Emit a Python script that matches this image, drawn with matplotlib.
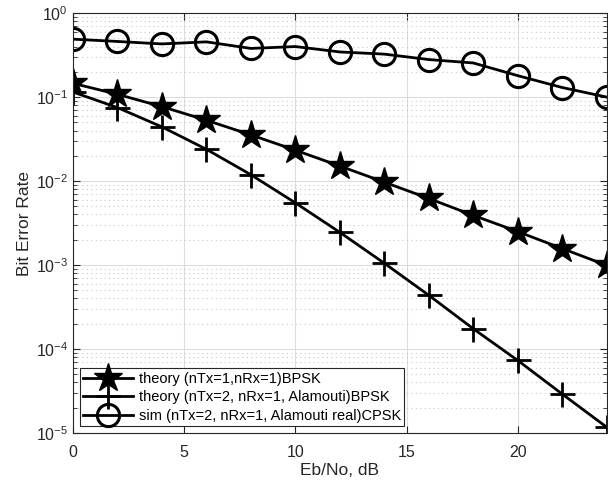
import numpy as np
import matplotlib
matplotlib.use("Agg")
import matplotlib.pyplot as plt
from matplotlib.ticker import LogLocator, NullFormatter

plt.rcParams['font.family'] = ['Liberation Sans', 'DejaVu Sans']
plt.rcParams['mathtext.fontset'] = 'custom'
plt.rcParams['mathtext.rm'] = 'Liberation Sans'
plt.rcParams['mathtext.it'] = 'Liberation Sans'

# Eb/No (dB)
ebno = [0, 2, 4, 6, 8, 10, 12, 14, 16, 18, 20, 22, 24]

# theory (nTx=1, nRx=1) BPSK
ber_1x1 = [0.146, 0.108, 0.077, 0.053, 0.0355, 0.0233, 0.0151, 0.0097,
           0.0062, 0.0039, 0.0025, 0.00157, 0.00099]
# theory (nTx=2, nRx=1, Alamouti) BPSK
ber_alam = [0.115, 0.075, 0.0442, 0.0239, 0.0119, 0.0055, 0.00245, 0.00105,
            0.000436, 0.000174, 7.3e-5, 2.9e-5, 1.17e-5]
# sim (nTx=2, nRx=1, Alamouti real) CPSK
ber_sim = [0.49, 0.46, 0.43, 0.455, 0.38, 0.40, 0.345, 0.325,
           0.28, 0.255, 0.18, 0.13, 0.10]

labels = ['theory (nTx=1,nRx=1)BPSK',
          'theory (nTx=2, nRx=1, Alamouti)BPSK',
          'sim (nTx=2, nRx=1, Alamouti real)CPSK']

fig = plt.figure(figsize=(6.08, 4.87), dpi=100)
ax = fig.add_axes([0.120, 0.111, 0.878, 0.862])

ax.semilogy(ebno, ber_1x1, 'k-*', lw=2, ms=21, mfc='k', mec='k', label=labels[0])
ax.semilogy(ebno, ber_alam, 'k-+', lw=2, ms=18, mew=2, label=labels[1])
ax.semilogy(ebno, ber_sim, 'k-o', lw=2, ms=16, mew=2.2, mfc='none', label=labels[2])

ax.set_xlim(0, 24)
ax.set_ylim(1e-5, 1)
ax.set_xticks([0, 5, 10, 15, 20])
ax.yaxis.set_major_locator(LogLocator(base=10, numticks=10))
ax.yaxis.set_minor_locator(LogLocator(base=10, subs=np.arange(2, 10), numticks=10))
ax.yaxis.set_minor_formatter(NullFormatter())

ax.grid(True, which='major', color='#dcdcdc', lw=0.8, ls='-')
ax.grid(True, which='minor', axis='y', color='#c8c8c8', lw=0.8, ls=(0, (1, 3)))
ax.set_axisbelow(True)

ax.tick_params(which='both', direction='in', top=True, right=True,
               colors='#262626', labelsize=11.5)
ax.tick_params(which='major', length=5)
ax.tick_params(which='minor', length=3)
ax.tick_params(axis='x', which='major', pad=9)
for s in ax.spines.values():
    s.set_color('#262626')

ax.set_xlabel('Eb/No, dB', fontsize=12.5, color='#262626', labelpad=2)
ax.set_ylabel('Bit Error Rate', fontsize=12.5, color='#262626', labelpad=3)

leg = ax.legend(loc='lower left', fontsize=10.5, handlelength=3.4,
                borderaxespad=0.45, fancybox=False, framealpha=1,
                edgecolor='#262626', borderpad=0.25, labelspacing=0.3,
                handletextpad=0.4)
leg.get_frame().set_linewidth(0.8)

fig.savefig('out.png', dpi=100)
